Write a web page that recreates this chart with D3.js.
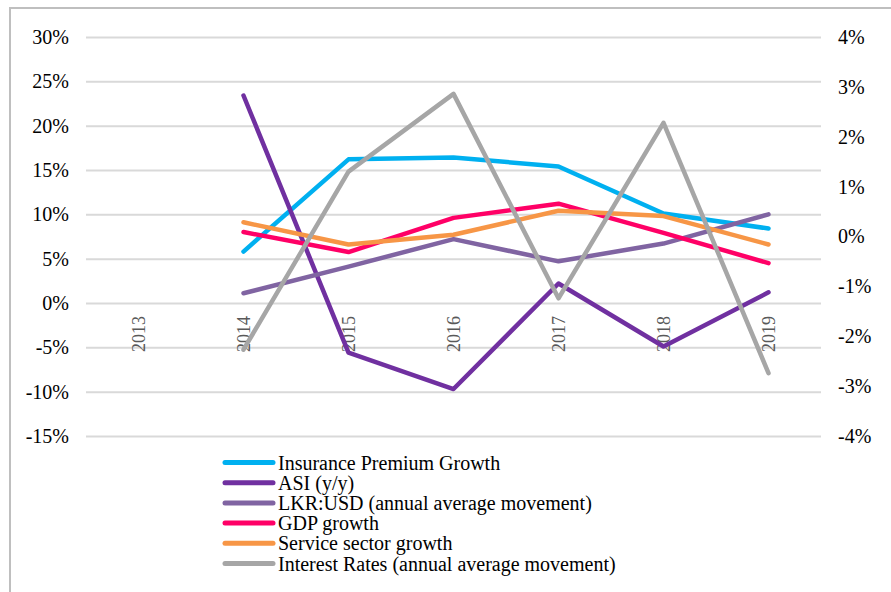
<!DOCTYPE html>
<html><head><meta charset="utf-8">
<script src="https://cdn.jsdelivr.net/npm/d3@7"></script>
<style>body{margin:0;background:#fff}svg{display:block}</style>
</head><body>
<script>
const years = ["2013","2014","2015","2016","2017","2018","2019"];
const insurance = [null, 5.8, 16.2, 16.4, 15.4, 10.1, 8.4];
const asi = [null, 23.4, -5.6, -9.7, 2.2, -4.9, 1.2];
const lkr = [null, 1.1, 4.1, 7.2, 4.7, 6.7, 10.0];
const gdp = [null, 8.0, 5.75, 9.6, 11.2, 7.9, 4.5];
const service = [null, 9.1, 6.6, 7.7, 10.4, 9.8, 6.6];
const interest = [null, -2.27, 1.3, 2.86, -1.24, 2.28, -2.74];
const leftTicks = [-15,-10,-5,0,5,10,15,20,25,30];
const rightTicks = [-4,-3,-2,-1,0,1,2,3,4];

const series = [
  {name:"Insurance Premium Growth", values:insurance, color:"#00B0F0", axis:"left"},
  {name:"ASI (y/y)", values:asi, color:"#7030A0", axis:"left"},
  {name:"LKR:USD (annual average movement)", values:lkr, color:"#8064A2", axis:"left"},
  {name:"GDP growth", values:gdp, color:"#FF0066", axis:"left"},
  {name:"Service sector growth", values:service, color:"#F79646", axis:"left"},
  {name:"Interest Rates (annual average movement)", values:interest, color:"#A6A6A6", axis:"right"}
];

(function(){
const W = 891, H = 592;
const svg = d3.select("body").append("svg").attr("width", W).attr("height", H);
const font = "'Liberation Serif','Times New Roman',serif";

svg.append("rect").attr("x",10).attr("y",8).attr("width",W+20).attr("height",H+20)
  .attr("fill","#fff").attr("stroke","#BFBFBF").attr("stroke-width",2);

const pL = 86, pR = 821, pT = 37, pB = 436;
const x = d3.scaleBand().domain(years).range([pL, pR]);
const yL = d3.scaleLinear().domain([-15,30]).range([pB, pT]);
const yR = d3.scaleLinear().domain([-4,4]).range([pB, pT]);

// gridlines
const gridAxis = d3.axisLeft(yL).tickValues(leftTicks).tickSize(-(pR-pL)).tickFormat("");
const g = svg.append("g").attr("transform",`translate(${pL},0)`).call(gridAxis);
g.select(".domain").remove();
g.selectAll("line").attr("stroke","#D9D9D9").attr("stroke-width",2);

// left labels
const la = svg.append("g").attr("transform",`translate(${pL},0)`)
  .call(d3.axisLeft(yL).tickValues(leftTicks).tickSize(0).tickPadding(17).tickFormat(d=>d+"%"));
la.select(".domain").remove();
la.selectAll("text").attr("font-family",font).attr("font-size",20).attr("fill","#000");

// right labels
const ra = svg.append("g").attr("transform",`translate(${pR},0)`)
  .call(d3.axisRight(yR).tickValues(rightTicks).tickSize(0).tickPadding(17).tickFormat(d=>d+"%"));
ra.select(".domain").remove();
ra.selectAll("text").attr("font-family",font).attr("font-size",20).attr("fill","#000");

// category labels (rotated) at zero line
const cx = d => x(d) + x.bandwidth()/2;
svg.append("g").selectAll("text").data(years).join("text")
  .attr("transform", d => `translate(${cx(d)+6},${yL(0)+13}) rotate(-90)`)
  .attr("text-anchor","end")
  .attr("font-family",font).attr("font-size",18).attr("fill","#595959")
  .text(d=>d);

// lines
series.forEach(s => {
  const yS = s.axis === "left" ? yL : yR;
  const line = d3.line().defined(d => d.v != null).x(d => cx(d.c)).y(d => yS(d.v));
  svg.append("path")
    .datum(years.map((c,i)=>({c, v:s.values[i]})))
    .attr("d", line).attr("fill","none").attr("stroke",s.color)
    .attr("stroke-width",4.5).attr("stroke-linejoin","round").attr("stroke-linecap","round");
});

// legend
const lg = svg.append("g");
series.forEach((s,i) => {
  const yy = 462.5 + i*20.2;
  lg.append("line").attr("x1",225).attr("x2",273).attr("y1",yy).attr("y2",yy)
    .attr("stroke",s.color).attr("stroke-width",5).attr("stroke-linecap","round");
  lg.append("text").attr("x",278).attr("y",yy).attr("dy","0.35em")
    .attr("font-family",font).attr("font-size",20).attr("fill","#000").text(s.name);
});
})();
</script>
</body></html>
